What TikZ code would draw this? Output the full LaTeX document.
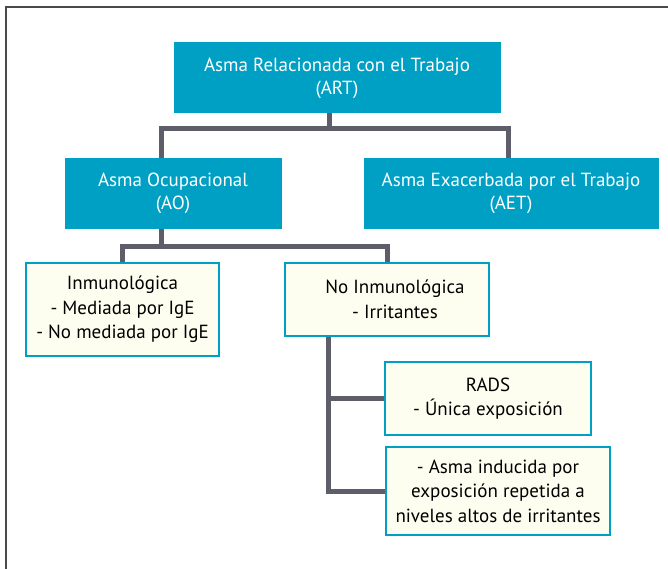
\documentclass[tikz,border=0pt]{standalone}
\usepackage{fontspec}
\setmainfont{PT Sans}
\definecolor{tealbox}{HTML}{00A0C4}
\definecolor{creamfill}{HTML}{FEFEF0}
\definecolor{linkgray}{HTML}{5E5E6A}
\definecolor{framegray}{HTML}{4A4A4A}
\tikzset{
  topbox/.style={draw=tealbox, fill=tealbox, line width=1pt, text=white, align=center, inner sep=0pt,
    font=\fontsize{19}{23}\selectfont},
  subbox/.style={draw=tealbox, fill=creamfill, line width=2.5pt, text=black, align=center, inner sep=0pt,
    font=\fontsize{19}{24.5}\selectfont},
  link/.style={draw=linkgray, line width=5pt, line join=miter}
}
\begin{document}
\begin{tikzpicture}[x=1pt,y=-1pt]
\useasboundingbox (0,0) rectangle (668,569);
\draw[framegray, line width=1.5pt] (6,569) -- (6,7) -- (668,7);

\node[topbox, minimum width=326pt, minimum height=70pt] (ART) at (337,78) {Asma Relacionada con el Trabajo\\(ART)};
\node[topbox, minimum width=216pt, minimum height=69pt] (AO) at (173,193.5) {Asma Ocupacional\\(AO)};
\node[topbox, minimum width=294pt, minimum height=69pt] (AET) at (511,193.5) {Asma Exacerbada por el Trabajo\\(AET)};

\node[subbox, minimum width=193pt, minimum height=93pt] (INM) at (122.5,309.5) {Inmunológica\\- Mediada por IgE\\- No mediada por IgE};
\node[subbox, minimum width=204pt, minimum height=73pt] (NI) at (387,299.5) {\hspace*{16pt}No Inmunológica\\\hspace*{16pt}- Irritantes};
\node[subbox, minimum width=206pt, minimum height=73pt] (RADS) at (488,398.5) {RADS\\- Única exposición};
\node[subbox, minimum width=224pt, minimum height=88pt] (REP) at (498,491) {- Asma inducida por\\exposición repetida a\\niveles altos de irritantes};

\coordinate (j1) at (329,129);
\coordinate (j2) at (161,246);
% level 1
\draw[link] ([xshift=-8pt]ART.south) -- ([xshift=-8pt]ART.south |- j1);
\draw[link] ([xshift=-12pt]AO.north) |- (j1) -| ([xshift=-3pt]AET.north);
% level 2
\draw[link] ([xshift=-12pt]AO.south) -- (j2);
\draw[link] (INM.north) |- (j2) -| (NI.north);
% level 3
\draw[link] ([xshift=-59pt]NI.south) |- (REP.west);
\draw[link] ([xshift=-59pt]NI.south |- RADS.west) -- (RADS.west);
\end{tikzpicture}
\end{document}
